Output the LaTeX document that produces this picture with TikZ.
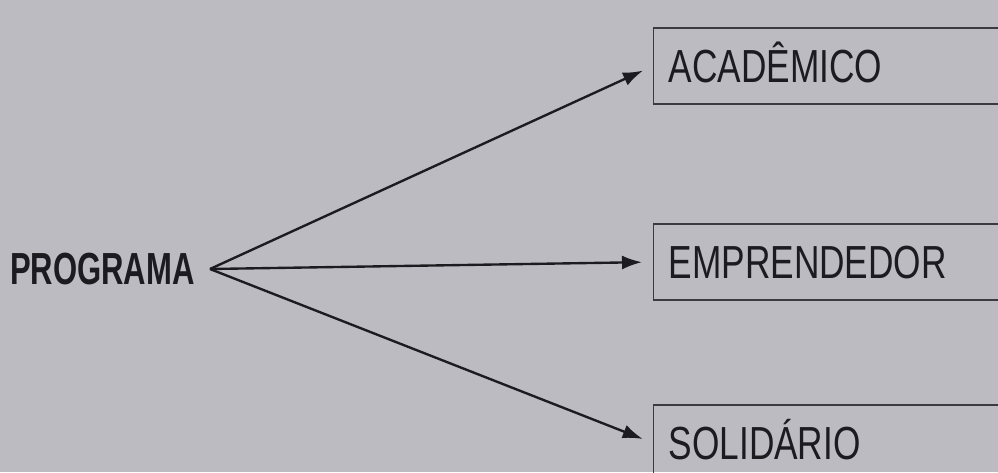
\documentclass[tikz,border=0pt]{standalone}
\usepackage{fontspec}
\setmainfont{Liberation Sans}
\newfontfamily\boxfont[FakeStretch=0.76]{Liberation Sans}
\newfontfamily\progfont[FakeStretch=0.69]{Liberation Sans}
\usetikzlibrary{arrows.meta}
\definecolor{paper}{HTML}{BDBBC2}
\definecolor{ink}{HTML}{1C1C20}
\definecolor{frame}{HTML}{3A3A40}
\tikzset{
  every node/.style = {text=ink},
  lfroot/.style = {anchor=east, inner xsep=3mm, inner ysep=0pt,
                   font=\progfont\bfseries\fontsize{25.6}{30}\selectfont},
  lfbox/.style  = {draw=frame, line width=0.75pt, anchor=west, align=left,
                   minimum height=15.2mm, text width=74mm, inner xsep=3mm, inner ysep=0pt,
                   text height=6.6mm, text depth=0pt,
                   font=\boxfont\fontsize{26.4}{30}\selectfont},
  lfgo/.style   = {-{Latex[length=4mm,width=2.8mm]}, draw=ink, line width=1.35pt,
                   shorten >=2.2mm},
}

\begin{document}
\begin{tikzpicture}[x=0.2mm, y=-0.2mm]
\clip (0,0) rectangle (998,472);
\fill[paper] (0,0) rectangle (998,472);

\node[lfroot] (P) at (210,269) {PROGRAMA};

\foreach \n/\y/\ttl in {A/66/ACADÊMICO, E/262/EMPRENDEDOR, S/443/SOLIDÁRIO}{
  \node[lfbox] (\n) at (653,\y) {\ttl};
  \draw[lfgo] (P.east) -- (\n.west);
}
\end{tikzpicture}
\end{document}
